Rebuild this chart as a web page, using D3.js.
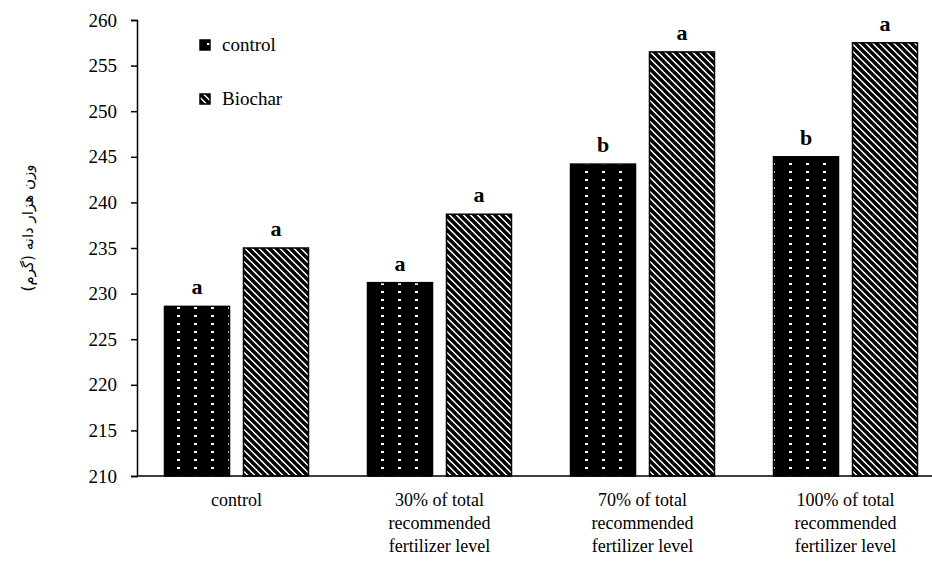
<!DOCTYPE html>
<html><head><meta charset="utf-8">
<script src="https://cdn.jsdelivr.net/npm/d3@7"></script>
</head><body style="margin:0;background:#fff;position:relative">
<script>
const categories = [["control"],["30% of total","recommended","fertilizer level"],["70% of total","recommended","fertilizer level"],["100% of total","recommended","fertilizer level"]];
const series = ["control","Biochar"];
const controlValues = [228.6, 231.2, 244.2, 245.0];
const biocharValues = [235.0, 238.7, 256.5, 257.5];
const controlLetters = ["a","a","b","b"];
const biocharLetters = ["a","a","a","a"];
const yTicks = [210,215,220,225,230,235,240,245,250,255,260];
const yLabel = "وزن هزار دانه (گرم)";

const SERIF="Liberation Serif";
function serif(sel,size,bold){
  sel.style("font-family",SERIF).style("font-size",size+"px");
  if(bold) sel.style("font-weight","bold");
  return sel;
}
const W=932,H=574;
const svg=d3.select("body").append("svg").attr("width",W).attr("height",H).style("display","block");
const defs=svg.append("defs");
const p1=defs.append("pattern").attr("id","dots").attr("patternUnits","userSpaceOnUse")
  .attr("width",17).attr("height",8);
p1.append("rect").attr("width",17).attr("height",8).attr("fill","#000");
p1.append("rect").attr("x",7).attr("y",3).attr("width",3).attr("height",2).attr("fill","#fff");
const p2=defs.append("pattern").attr("id","hatch").attr("patternUnits","userSpaceOnUse")
  .attr("width",7).attr("height",7);
p2.append("rect").attr("width",7).attr("height",7).attr("fill","#fff");
p2.append("path").attr("d","M-1,-1 L8,8 M-8,-1 L1,8 M6,-1 L15,8").attr("stroke","#000").attr("stroke-width",3.4);

const fills={control:"url(#dots)",Biochar:"url(#hatch)"};
const y=d3.scaleLinear().domain([210,260]).range([476,20]);
const x=d3.scaleBand().domain(d3.range(categories.length)).range([135,947]);
const xs=d3.scaleBand().domain(series).range([-72,72]).paddingInner(0.177);

const data=[];
categories.forEach((c,i)=>{
  data.push({i,s:"control",v:controlValues[i],l:controlLetters[i]});
  data.push({i,s:"Biochar",v:biocharValues[i],l:biocharLetters[i]});
});
const g=svg.append("g");
g.selectAll("rect.bar").data(data).join("rect").attr("class","bar")
  .attr("x",d=>x(d.i)+x.bandwidth()/2+xs(d.s))
  .attr("width",xs.bandwidth())
  .attr("y",d=>y(d.v)).attr("height",d=>y(210)-y(d.v))
  .attr("fill",d=>fills[d.s]).attr("stroke","#000").attr("stroke-width",1.5);
serif(g.selectAll("text.lt").data(data).join("text").attr("class","lt")
  .attr("x",d=>x(d.i)+x.bandwidth()/2+xs(d.s)+xs.bandwidth()/2)
  .attr("y",d=>y(d.v)-12)
  .attr("text-anchor","middle"),22,true)
  .text(d=>d.l);

const ya=svg.append("g").attr("transform","translate(137,0)")
  .call(d3.axisLeft(y).tickValues(yTicks).tickSize(6).tickPadding(14).tickFormat(d3.format("d")));
ya.attr("font-family",null).attr("font-size",null);
ya.select(".domain").attr("stroke","#000").attr("stroke-width",1.5);
ya.selectAll(".tick line").attr("stroke","#000").attr("stroke-width",1.5);
serif(ya.selectAll("text"),19).attr("fill","#000");

svg.append("line").attr("x1",137).attr("x2",932).attr("y1",y(210)).attr("y2",y(210)).attr("stroke","#000").attr("stroke-width",1.5);
const cl=serif(svg.append("g").selectAll("text").data(categories).join("text")
  .attr("x",(d,i)=>x(i)+x.bandwidth()/2).attr("y",506)
  .attr("text-anchor","middle"),18);
cl.each(function(d){
  d3.select(this).selectAll("tspan").data(d).join("tspan")
    .attr("x",d3.select(this).attr("x")).attr("dy",(t,j)=>j?23:0).text(t=>t);
});

const leg=svg.append("g").selectAll("g").data(series).join("g")
  .attr("transform",(d,i)=>`translate(200,${40+i*54})`);
leg.append("rect").attr("width",10).attr("height",10).attr("fill",d=>fills[d]).attr("stroke","#000").attr("stroke-width",1.5);
serif(leg.append("text").attr("x",22).attr("y",11),19).text(d=>d);

// y label as HTML overlay
d3.select("body").append("div")
  .style("position","absolute").style("left","28px").style("top","228px")
  .style("transform","translate(-50%,-50%) rotate(-90deg)")
  .style("white-space","nowrap").style("font-family","DejaVu Sans").style("font-size","15px")
  .attr("dir","rtl")
  .text(yLabel);
</script>
</body></html>
